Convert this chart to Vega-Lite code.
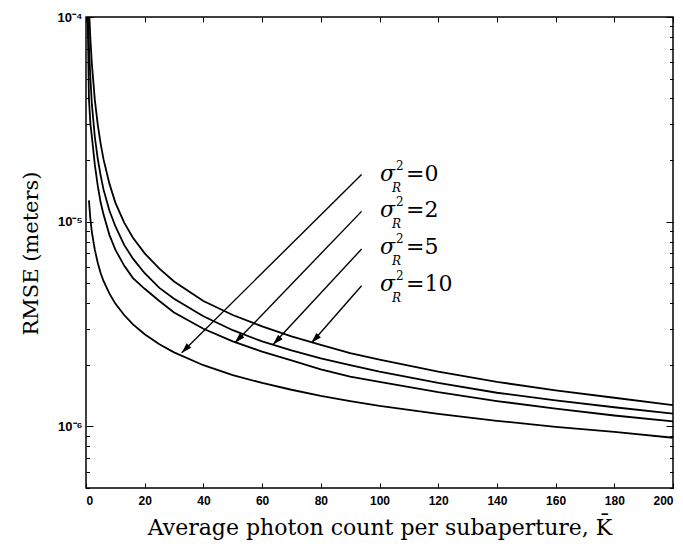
{
  "$schema": "https://vega.github.io/schema/vega-lite/v6.json",
  "width": 587,
  "height": 471,
  "autosize": {"type": "none"},
  "padding": {"left": 86, "top": 17, "right": 10, "bottom": 64},
  "background": "white",
  "config": {"view": {"stroke": "black", "strokeWidth": 1.5}},
  "datasets": {
    "curves": [
      {"s2": "0", "K": 1, "rmse": 1.27e-5}, {"s2": "0", "K": 1.5, "rmse": 1.03e-5}, {"s2": "0", "K": 2, "rmse": 8.9e-6}, {"s2": "0", "K": 3, "rmse": 7.3e-6}, {"s2": "0", "K": 4, "rmse": 6.3e-6}, {"s2": "0", "K": 5, "rmse": 5.6e-6}, {"s2": "0", "K": 6, "rmse": 5.12e-6}, {"s2": "0", "K": 8, "rmse": 4.45e-6}, {"s2": "0", "K": 10, "rmse": 3.98e-6}, {"s2": "0", "K": 13, "rmse": 3.5e-6}, {"s2": "0", "K": 16, "rmse": 3.15e-6}, {"s2": "0", "K": 20, "rmse": 2.82e-6}, {"s2": "0", "K": 25, "rmse": 2.52e-6}, {"s2": "0", "K": 30, "rmse": 2.3e-6}, {"s2": "0", "K": 40, "rmse": 1.99e-6}, {"s2": "0", "K": 50, "rmse": 1.78e-6}, {"s2": "0", "K": 60, "rmse": 1.63e-6}, {"s2": "0", "K": 70, "rmse": 1.51e-6}, {"s2": "0", "K": 80, "rmse": 1.41e-6}, {"s2": "0", "K": 90, "rmse": 1.33e-6}, {"s2": "0", "K": 100, "rmse": 1.26e-6}, {"s2": "0", "K": 120, "rmse": 1.15e-6}, {"s2": "0", "K": 140, "rmse": 1.065e-6}, {"s2": "0", "K": 160, "rmse": 9.95e-7}, {"s2": "0", "K": 180, "rmse": 9.4e-7}, {"s2": "0", "K": 200, "rmse": 8.8e-7},
      {"s2": "2", "K": 0.5, "rmse": 1.2e-4}, {"s2": "2", "K": 1, "rmse": 4.0e-5}, {"s2": "2", "K": 1.5, "rmse": 3.0e-5}, {"s2": "2", "K": 2, "rmse": 2.6e-5}, {"s2": "2", "K": 3, "rmse": 1.9e-5}, {"s2": "2", "K": 4, "rmse": 1.5e-5}, {"s2": "2", "K": 5, "rmse": 1.24e-5}, {"s2": "2", "K": 6, "rmse": 1.08e-5}, {"s2": "2", "K": 8, "rmse": 8.6e-6}, {"s2": "2", "K": 10, "rmse": 7.3e-6}, {"s2": "2", "K": 13, "rmse": 6.1e-6}, {"s2": "2", "K": 16, "rmse": 5.3e-6}, {"s2": "2", "K": 20, "rmse": 4.7e-6}, {"s2": "2", "K": 25, "rmse": 4.1e-6}, {"s2": "2", "K": 30, "rmse": 3.6e-6}, {"s2": "2", "K": 40, "rmse": 3.0e-6}, {"s2": "2", "K": 50, "rmse": 2.6e-6}, {"s2": "2", "K": 60, "rmse": 2.32e-6}, {"s2": "2", "K": 70, "rmse": 2.1e-6}, {"s2": "2", "K": 80, "rmse": 1.9e-6}, {"s2": "2", "K": 90, "rmse": 1.75e-6}, {"s2": "2", "K": 100, "rmse": 1.65e-6}, {"s2": "2", "K": 120, "rmse": 1.47e-6}, {"s2": "2", "K": 140, "rmse": 1.33e-6}, {"s2": "2", "K": 160, "rmse": 1.22e-6}, {"s2": "2", "K": 180, "rmse": 1.13e-6}, {"s2": "2", "K": 200, "rmse": 1.058e-6},
      {"s2": "5", "K": 0.5, "rmse": 1.4e-4}, {"s2": "5", "K": 1, "rmse": 7.2e-5}, {"s2": "5", "K": 1.5, "rmse": 5.0e-5}, {"s2": "5", "K": 2, "rmse": 3.75e-5}, {"s2": "5", "K": 3, "rmse": 2.6e-5}, {"s2": "5", "K": 4, "rmse": 2.03e-5}, {"s2": "5", "K": 5, "rmse": 1.68e-5}, {"s2": "5", "K": 6, "rmse": 1.43e-5}, {"s2": "5", "K": 8, "rmse": 1.13e-5}, {"s2": "5", "K": 10, "rmse": 9.5e-6}, {"s2": "5", "K": 13, "rmse": 7.7e-6}, {"s2": "5", "K": 16, "rmse": 6.6e-6}, {"s2": "5", "K": 20, "rmse": 5.6e-6}, {"s2": "5", "K": 25, "rmse": 4.75e-6}, {"s2": "5", "K": 30, "rmse": 4.2e-6}, {"s2": "5", "K": 40, "rmse": 3.45e-6}, {"s2": "5", "K": 50, "rmse": 2.95e-6}, {"s2": "5", "K": 60, "rmse": 2.6e-6}, {"s2": "5", "K": 70, "rmse": 2.35e-6}, {"s2": "5", "K": 80, "rmse": 2.15e-6}, {"s2": "5", "K": 90, "rmse": 1.99e-6}, {"s2": "5", "K": 100, "rmse": 1.85e-6}, {"s2": "5", "K": 120, "rmse": 1.63e-6}, {"s2": "5", "K": 140, "rmse": 1.46e-6}, {"s2": "5", "K": 160, "rmse": 1.34e-6}, {"s2": "5", "K": 180, "rmse": 1.24e-6}, {"s2": "5", "K": 200, "rmse": 1.154e-6},
      {"s2": "10", "K": 0.5, "rmse": 2.2e-4}, {"s2": "10", "K": 1, "rmse": 1.12e-4}, {"s2": "10", "K": 1.5, "rmse": 7.8e-5}, {"s2": "10", "K": 2, "rmse": 5.9e-5}, {"s2": "10", "K": 3, "rmse": 3.95e-5}, {"s2": "10", "K": 4, "rmse": 2.98e-5}, {"s2": "10", "K": 5, "rmse": 2.4e-5}, {"s2": "10", "K": 6, "rmse": 2.01e-5}, {"s2": "10", "K": 8, "rmse": 1.53e-5}, {"s2": "10", "K": 10, "rmse": 1.24e-5}, {"s2": "10", "K": 13, "rmse": 9.9e-6}, {"s2": "10", "K": 16, "rmse": 8.35e-6}, {"s2": "10", "K": 20, "rmse": 7.0e-6}, {"s2": "10", "K": 25, "rmse": 5.9e-6}, {"s2": "10", "K": 30, "rmse": 5.1e-6}, {"s2": "10", "K": 40, "rmse": 4.1e-6}, {"s2": "10", "K": 50, "rmse": 3.5e-6}, {"s2": "10", "K": 60, "rmse": 3.08e-6}, {"s2": "10", "K": 70, "rmse": 2.75e-6}, {"s2": "10", "K": 80, "rmse": 2.5e-6}, {"s2": "10", "K": 90, "rmse": 2.28e-6}, {"s2": "10", "K": 100, "rmse": 2.12e-6}, {"s2": "10", "K": 120, "rmse": 1.85e-6}, {"s2": "10", "K": 140, "rmse": 1.65e-6}, {"s2": "10", "K": 160, "rmse": 1.5e-6}, {"s2": "10", "K": 180, "rmse": 1.38e-6}, {"s2": "10", "K": 200, "rmse": 1.27e-6}
    ],
    "arrows": [
      {"s2": "0", "x1": 93.9, "y1": 1.70e-5, "x2": 32.6, "y2": 2.29e-6, "hx": 33.83, "hy": 2.38e-6},
      {"s2": "2", "x1": 93.9, "y1": 1.123e-5, "x2": 50.8, "y2": 2.56e-6, "hx": 51.96, "hy": 2.67e-6},
      {"s2": "5", "x1": 93.9, "y1": 7.35e-6, "x2": 63.8, "y2": 2.52e-6, "hx": 64.97, "hy": 2.62e-6},
      {"s2": "10", "x1": 93.9, "y1": 4.86e-6, "x2": 76.9, "y2": 2.56e-6, "hx": 78.02, "hy": 2.67e-6}
    ],
    "labels": [
      {"s2": "0", "K": 100.2, "v": 1.589e-5, "eq": "=0"},
      {"s2": "2", "K": 100.2, "v": 1.05e-5, "eq": "=2"},
      {"s2": "5", "K": 100.2, "v": 6.95e-6, "eq": "=5"},
      {"s2": "10", "K": 100.2, "v": 4.59e-6, "eq": "=10"}
    ]
  },
  "layer": [
    {
      "data": {"name": "curves"},
      "mark": {"type": "line", "color": "black", "strokeWidth": 1.8, "clip": true},
      "encoding": {
        "x": {
          "field": "K", "type": "quantitative",
          "scale": {"domain": [0, 200], "nice": false, "zero": false},
          "axis": {
            "orient": "bottom", "values": [0, 20, 40, 60, 80, 100, 120, 140, 160, 180, 200],
            "title": "Average photon count per subaperture, K̄",
            "titleFont": "DejaVu Serif", "titleFontSize": 22, "titleFontWeight": "normal", "titleColor": "black",
            "titleY": 46, "titleBaseline": "alphabetic",
            "labelFont": "Liberation Sans", "labelFontWeight": "bold", "labelFontSize": 12, "labelColor": "black",
            "tickSize": -5, "tickColor": "black", "tickWidth": 1, "labelPadding": 12, "domain": false, "grid": false
          }
        },
        "y": {
          "field": "rmse", "type": "quantitative",
          "scale": {"type": "log", "domain": [5e-7, 1e-4], "nice": false},
          "axis": {
            "orient": "left",
            "values": [5e-7, 6e-7, 7e-7, 8e-7, 9e-7, 1e-6, 2e-6, 3e-6, 4e-6, 5e-6, 6e-6, 7e-6, 8e-6, 9e-6, 1e-5, 2e-5, 3e-5, 4e-5, 5e-5, 6e-5, 7e-5, 8e-5, 9e-5, 1e-4],
            "labelExpr": "datum.value == 1e-4 ? '10⁻⁴' : datum.value == 1e-5 ? '10⁻⁵' : datum.value == 1e-6 ? '10⁻⁶' : ''",
            "title": "RMSE (meters)",
            "titleFont": "DejaVu Serif", "titleFontSize": 21, "titleFontWeight": "normal", "titleColor": "black",
            "titleX": -49, "titleY": 236, "titleAngle": -90, "titleBaseline": "alphabetic", "titleAlign": "center",
            "labelFont": "Liberation Sans", "labelFontWeight": "bold", "labelFontSize": 13, "labelColor": "black",
            "tickSize": {"condition": {"test": "datum.value == 1e-4 || datum.value == 1e-5 || datum.value == 1e-6", "value": -7}, "value": -3.5},
            "tickColor": "black", "labelPadding": 11, "domain": false, "grid": false, "labelFlush": false
          }
        },
        "detail": {"field": "s2", "type": "nominal"}
      }
    },
    {
      "data": {"name": "arrows"},
      "mark": {"type": "rule", "color": "black", "strokeWidth": 1.4},
      "encoding": {
        "x": {"field": "x1", "type": "quantitative",
          "axis": {"orient": "top", "values": [0, 20, 40, 60, 80, 100, 120, 140, 160, 180, 200], "labels": false, "title": null, "tickSize": -5, "tickColor": "black", "domain": false, "grid": false}},
        "y": {"field": "y1", "type": "quantitative",
          "axis": {"orient": "right",
            "values": [5e-7, 6e-7, 7e-7, 8e-7, 9e-7, 1e-6, 2e-6, 3e-6, 4e-6, 5e-6, 6e-6, 7e-6, 8e-6, 9e-6, 1e-5, 2e-5, 3e-5, 4e-5, 5e-5, 6e-5, 7e-5, 8e-5, 9e-5, 1e-4],
            "labels": false, "title": null,
            "tickSize": {"condition": {"test": "datum.value == 1e-4 || datum.value == 1e-5 || datum.value == 1e-6", "value": -7}, "value": -3.5},
            "tickColor": "black", "domain": false, "grid": false}},
        "x2": {"field": "x2"},
        "y2": {"field": "y2"}
      }
    },
    {
      "data": {"name": "arrows"},
      "mark": {"type": "point", "shape": "M0,-1L0.6,1L-0.6,1Z", "filled": true, "color": "black", "opacity": 1, "size": 110, "angle": 224},
      "encoding": {
        "x": {"field": "hx", "type": "quantitative", "axis": null},
        "y": {"field": "hy", "type": "quantitative", "axis": null}
      }
    },
    {
      "data": {"name": "labels"},
      "mark": {"type": "text", "text": "σ", "font": "DejaVu Serif", "fontStyle": "italic", "fontSize": 22, "align": "left", "baseline": "alphabetic", "color": "black"},
      "encoding": {
        "x": {"field": "K", "type": "quantitative", "axis": null},
        "y": {"field": "v", "type": "quantitative", "axis": null}
      }
    },
    {
      "data": {"name": "labels"},
      "mark": {"type": "text", "text": "2", "font": "DejaVu Serif", "fontSize": 12, "align": "left", "baseline": "alphabetic", "dx": 16, "dy": -11, "color": "black"},
      "encoding": {
        "x": {"field": "K", "type": "quantitative", "axis": null},
        "y": {"field": "v", "type": "quantitative", "axis": null}
      }
    },
    {
      "data": {"name": "labels"},
      "mark": {"type": "text", "text": "R", "font": "DejaVu Serif", "fontStyle": "italic", "fontSize": 12, "align": "left", "baseline": "alphabetic", "dx": 12, "dy": 11, "color": "black"},
      "encoding": {
        "x": {"field": "K", "type": "quantitative", "axis": null},
        "y": {"field": "v", "type": "quantitative", "axis": null}
      }
    },
    {
      "data": {"name": "labels"},
      "mark": {"type": "text", "font": "DejaVu Serif", "fontSize": 22, "align": "left", "baseline": "alphabetic", "dx": 26, "color": "black"},
      "encoding": {
        "x": {"field": "K", "type": "quantitative", "axis": null},
        "y": {"field": "v", "type": "quantitative", "axis": null},
        "text": {"field": "eq", "type": "nominal"}
      }
    }
  ],
  "resolve": {"axis": {"x": "independent", "y": "independent"}}
}
